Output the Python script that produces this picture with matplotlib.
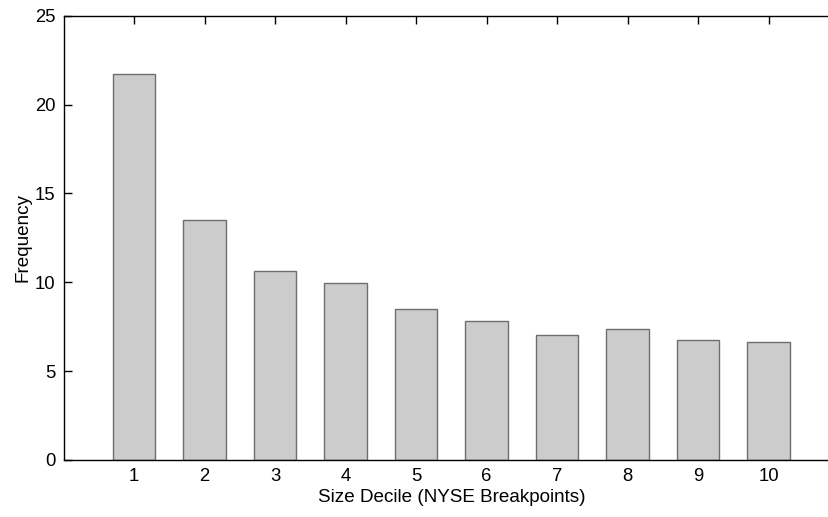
import matplotlib.pyplot as plt
import numpy as np

plt.rcParams['font.family'] = ['Liberation Sans', 'DejaVu Sans']

# size deciles and how often each shows up
deciles = [1, 2, 3, 4, 5, 6, 7, 8, 9, 10]
frequency = [21.72, 13.49, 10.62, 9.94, 8.48, 7.80, 7.02, 7.36, 6.74, 6.62]
y_ticks = [0, 5, 10, 15, 20, 25]

fig = plt.figure(figsize=(8.29, 5.17), dpi=100)
# axes run a bit past the right edge, like the cropped original
ax = fig.add_axes([0.0766, 0.1103, 0.9355, 0.8594])
ax.set_axisbelow(True)

ax.bar(deciles, frequency, width=0.6, color='#cccccc', edgecolor='#6e6e6e',
       linewidth=1.0)

ax.set_xlim(0, 11)
ax.set_ylim(0, 25)
ax.set_xticks(deciles)
ax.set_yticks(y_ticks)
ax.tick_params(direction='in', length=6, width=1, top=True, right=False,
               labelsize=13.3, pad=6)
for s in ax.spines.values():
    s.set_linewidth(1.0)
    s.set_zorder(3)
ax.spines['right'].set_visible(False)

ax.set_xlabel('Size Decile (NYSE Breakpoints)', fontsize=13.6, labelpad=3)
ax.set_ylabel('Frequency', fontsize=13.6, labelpad=2)

fig.savefig('out.png', dpi=100)
